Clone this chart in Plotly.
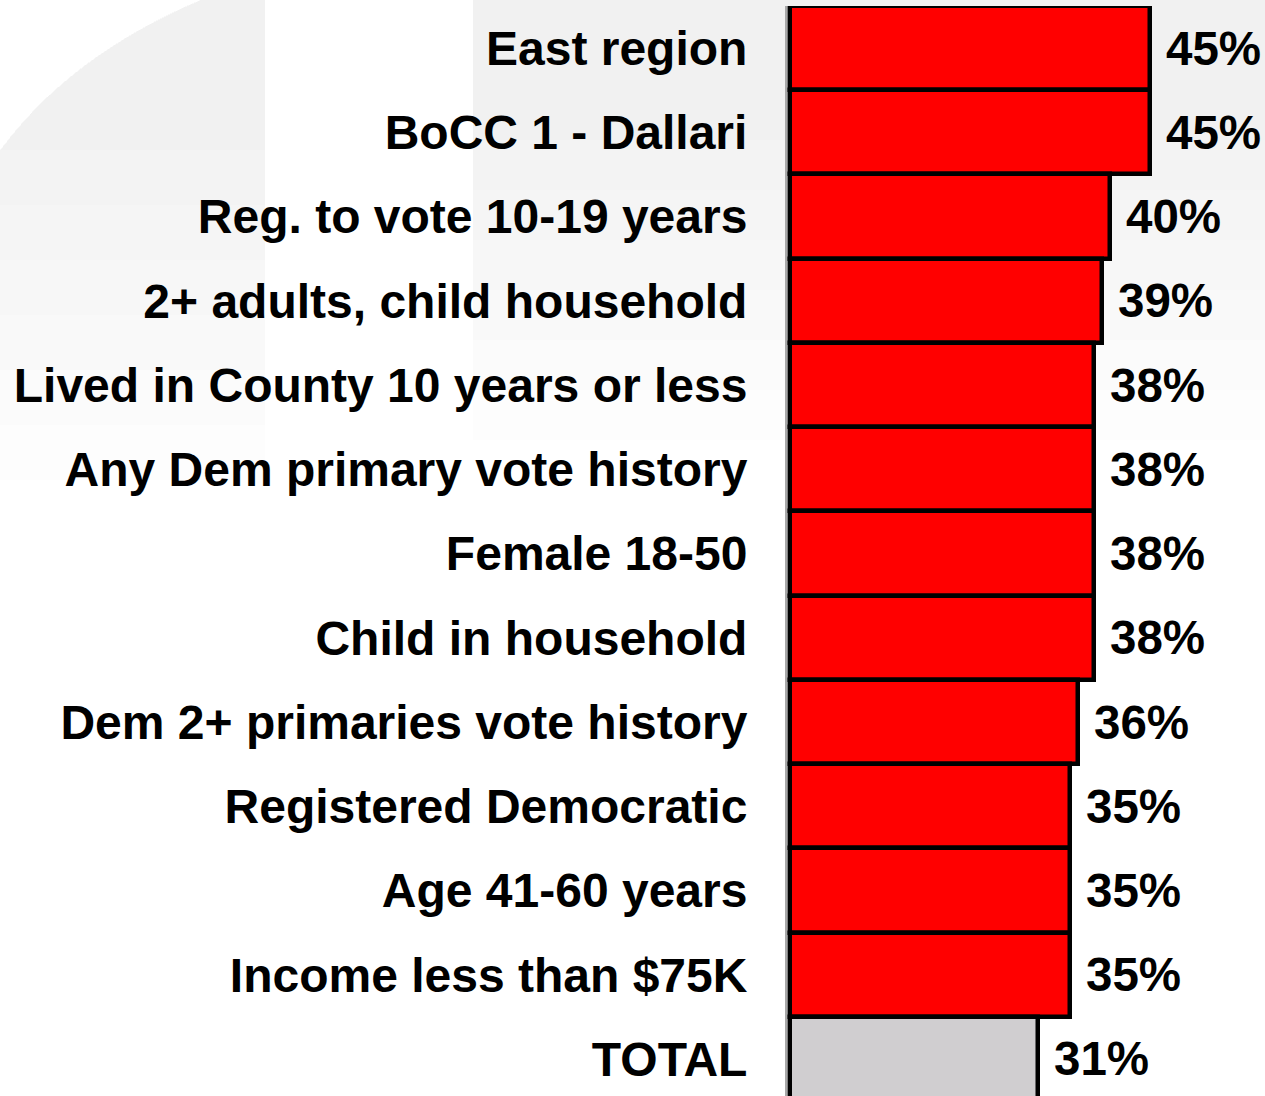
import plotly.graph_objects as go

# Subgroups ranked by share, with the overall figure last
categories = [
    "East region",
    "BoCC 1 - Dallari",
    "Reg. to vote 10-19 years",
    "2+ adults, child household",
    "Lived in County 10 years or less",
    "Any Dem primary vote history",
    "Female 18-50",
    "Child in household",
    "Dem 2+ primaries vote history",
    "Registered Democratic",
    "Age 41-60 years",
    "Income less than $75K",
    "TOTAL",
]
values = [45, 45, 40, 39, 38, 38, 38, 38, 36, 35, 35, 35, 31]
value_labels = [f"{v}%" for v in values]

bar_colors = ["#FF0000"] * (len(categories) - 1) + ["#D0CED0"]

FONT = "Liberation Sans, Arial, sans-serif"
PX_PER_UNIT = 8.0
LEFT, TOP = 787, 6
WIDTH, HEIGHT = 1265, 1096
PLOT_W, PLOT_H = WIDTH - LEFT, HEIGHT - TOP
x0 = -3 / PX_PER_UNIT
x1 = x0 + PLOT_W / PX_PER_UNIT


def px(x):
    return (x - LEFT) / PLOT_W


def py(y):
    return (HEIGHT - y) / PLOT_H


fig = go.Figure(
    go.Bar(
        x=values,
        y=categories,
        orientation="h",
        marker=dict(color=bar_colors, line=dict(color="#000000", width=4.5)),
        width=1.0,
        hoverinfo="skip",
    )
)

# Percentage labels to the right of each bar
for cat, v, lab in zip(categories, values, value_labels):
    fig.add_annotation(
        x=v, y=cat, text=f"<b>{lab}</b>", showarrow=False,
        xanchor="left", yanchor="middle", xshift=14,
        font=dict(family=FONT, size=47.5, color="#000000"),
    )

# Faint watermark swirl behind the chart, faded downward by stacking
# translucent layers of decreasing depth
steps = 7
for k in range(steps):
    depth = 480 - k * 55
    fig.add_shape(
        type="path", xref="paper", yref="paper", layer="below",
        path=(f"M {px(0)} {py(150)} Q {px(70)} {py(55)} {px(200)} {py(0)} "
              f"L {px(265)} {py(0)} L {px(265)} {py(depth)} "
              f"L {px(0)} {py(depth)} Z"),
        fillcolor="rgba(0,0,0,0.007)", line=dict(width=0),
    )
    depth2 = 440 - k * 50
    fig.add_shape(
        type="rect", xref="paper", yref="paper", layer="below",
        x0=px(473), x1=px(WIDTH), y0=py(depth2), y1=py(0),
        fillcolor="rgba(0,0,0,0.0065)", line=dict(width=0),
    )

fig.update_layout(
    width=WIDTH, height=HEIGHT,
    margin=dict(l=LEFT, r=0, t=TOP, b=0),
    paper_bgcolor="#FFFFFF", plot_bgcolor="rgba(0,0,0,0)",
    bargap=0, showlegend=False,
    font=dict(family=FONT, color="#000000"),
)
fig.update_xaxes(
    range=[x0, x1], visible=False, showgrid=False, zeroline=False,
)
fig.update_yaxes(
    type="category", categoryorder="array", categoryarray=categories,
    range=[12.44, -0.5],
    showline=True, linecolor="#A8A8A8", linewidth=2,
    showgrid=False, zeroline=False, ticks="",
    ticklabelstandoff=28,
    tickfont=dict(family=FONT, size=48, color="#000000", weight="bold"),
)

fig.write_html("out.html")
